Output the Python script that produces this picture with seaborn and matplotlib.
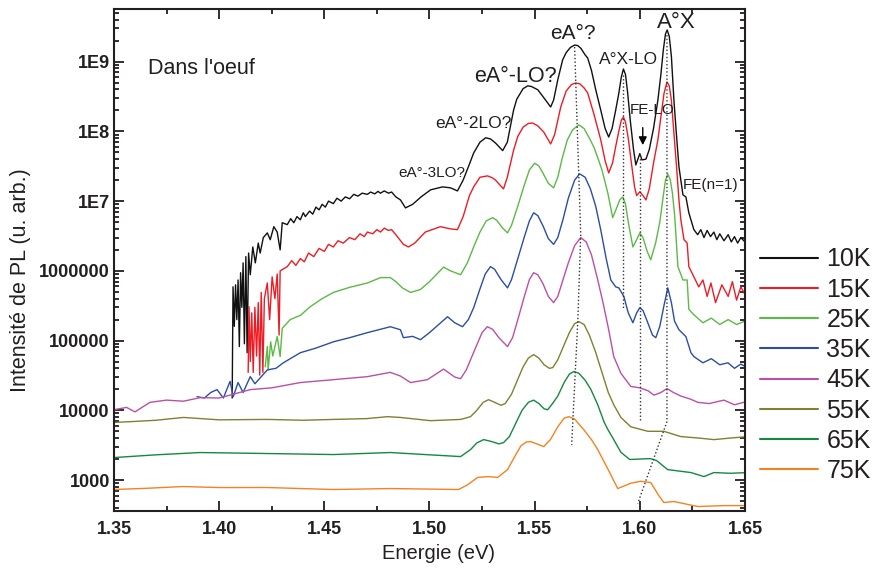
import matplotlib
matplotlib.use("Agg")
import matplotlib.pyplot as plt
from matplotlib.ticker import FixedLocator, FixedFormatter, LogLocator, MultipleLocator, NullFormatter
from matplotlib.lines import Line2D
import seaborn as sns

# PL spectra (energy in eV, intensity in arb. units)
e_10k = [1.4062, 1.4066, 1.4072, 1.4078, 1.4084, 1.4090, 1.4096, 1.4102, 1.4108, 1.4114, 1.4120, 1.4127,
         1.4133, 1.4140, 1.4148, 1.4160, 1.4172, 1.4186, 1.4195, 1.4210, 1.4229, 1.4243, 1.4260, 1.4276,
         1.4290, 1.4300, 1.4324, 1.4340, 1.4355, 1.4370, 1.4386, 1.4400, 1.4410, 1.4430, 1.4445, 1.4460,
         1.4475, 1.4490, 1.4505, 1.4520, 1.4543, 1.4560, 1.4580, 1.4600, 1.4620, 1.4640, 1.4660, 1.4680,
         1.4705, 1.4720, 1.4740, 1.4755, 1.4767, 1.4785, 1.4805, 1.4820, 1.4840, 1.4862, 1.4886, 1.4920,
         1.4960, 1.5005, 1.5062, 1.5100, 1.5133,
         1.5160, 1.5190, 1.5210, 1.5240, 1.5267, 1.5290, 1.5314, 1.5348, 1.5370, 1.5385, 1.5400, 1.5415,
         1.5445, 1.5467, 1.5485, 1.5515, 1.5545, 1.5576, 1.5590, 1.5610, 1.5633, 1.5650, 1.5670, 1.5690,
         1.5705, 1.5720, 1.5740, 1.5752, 1.5770, 1.5790, 1.5814, 1.5835, 1.5852, 1.5868, 1.5885, 1.5900,
         1.5912, 1.5922, 1.5932, 1.5942, 1.5955, 1.5970, 1.5981, 1.6000, 1.6010, 1.6029, 1.6045, 1.6065,
         1.6086, 1.6100, 1.6112, 1.6122, 1.6130, 1.6140, 1.6150, 1.6162, 1.6174, 1.6186, 1.6205, 1.6219,
         1.6233, 1.6257, 1.6275, 1.6290, 1.6305, 1.6320, 1.6336, 1.6352, 1.6366, 1.6380, 1.6400, 1.6420,
         1.6435, 1.6450, 1.6465, 1.6480, 1.6500]
i_10k = [1.5e4, 5.9e5, 1.6e5, 6.3e5, 2.0e5, 7.4e5, 8.2e4, 9.4e5, 3.0e5, 1.3e6, 9.0e4, 1.6e6,
         6.7e4, 1.8e6, 8.8e5, 2.2e6, 1.3e6, 2.5e6, 1.8e6, 3.0e6, 3.5e6, 2.8e6, 4.3e6, 3.6e6,
         2.0e6, 4.9e6, 4.6e6, 5.6e6, 4.9e6, 6.0e6, 5.4e6, 6.8e6, 6.0e6, 7.2e6, 6.5e6, 8.2e6,
         7.5e6, 9.0e6, 8.2e6, 1.0e7, 9.2e6, 1.1e7, 1.0e7, 1.15e7, 1.08e7, 1.25e7, 1.18e7, 1.3e7,
         1.25e7, 1.35e7, 1.27e7, 1.38e7, 1.3e7, 1.4e7, 1.3e7, 1.35e7, 1.15e7, 1.04e7, 8.0e6, 9.0e6,
         1.15e7, 1.45e7, 1.6e7, 1.55e7, 1.4e7,
         2.0e7, 3.4e7, 4.9e7, 7.0e7, 8.1e7, 7.8e7, 6.8e7, 5.3e7, 7.0e7, 1.2e8, 2.03e8, 2.9e8,
         4.1e8, 4.5e8, 4.4e8, 3.95e8, 3.0e8, 2.24e8, 2.8e8, 5.5e8, 1.06e9, 1.35e9, 1.6e9, 1.73e9,
         1.7e9, 1.55e9, 1.25e9, 1.13e9, 7.5e8, 4.0e8, 2.03e8, 1.1e8, 8.3e7, 1.1e8, 2.0e8, 3.5e8,
         6.0e8, 7.85e8, 6.5e8, 3.6e8, 1.4e8, 5.5e7, 3.3e7, 4.8e7, 3.9e7, 4.0e7, 5.5e7, 1.1e8,
         2.83e8, 6.5e8, 1.5e9, 2.5e9, 2.85e9, 2.3e9, 1.2e9, 2.83e8, 9.0e7, 3.1e7, 1.23e7, 1.15e7,
         6.8e6, 3.9e6, 3.3e6, 3.9e6, 3.0e6, 3.8e6, 3.1e6, 3.6e6, 2.8e6, 3.4e6, 2.7e6, 3.3e6,
         2.6e6, 3.1e6, 2.5e6, 3.0e6, 2.6e6]

e_15k = [1.4138, 1.4142, 1.4148, 1.4155, 1.4162, 1.4170, 1.4178, 1.4186, 1.4193, 1.4200, 1.4208, 1.4215,
         1.4229, 1.4240, 1.4252, 1.4265, 1.4276, 1.4285, 1.4290, 1.4324, 1.4345, 1.4365, 1.4386, 1.4405,
         1.4425, 1.4450, 1.4475, 1.4500, 1.4520, 1.4543, 1.4565, 1.4590, 1.4620, 1.4645, 1.4670, 1.4690,
         1.4705, 1.4730, 1.4750, 1.4767, 1.4785, 1.4805, 1.4820, 1.4840, 1.4876, 1.4900, 1.4930, 1.4980,
         1.5052, 1.5100, 1.5133,
         1.5160, 1.5190, 1.5210, 1.5240, 1.5276, 1.5300, 1.5314, 1.5335, 1.5352, 1.5370, 1.5400, 1.5420,
         1.5445, 1.5470, 1.5490, 1.5515, 1.5543, 1.5576, 1.5595, 1.5624, 1.5650, 1.5675, 1.5695, 1.5715,
         1.5735, 1.5752, 1.5781, 1.5800, 1.5814, 1.5835, 1.5852, 1.5870, 1.5885, 1.5900, 1.5912, 1.5922,
         1.5932, 1.5945, 1.5960, 1.5975, 1.5985, 1.6000, 1.6015, 1.6029, 1.6045, 1.6065, 1.6086, 1.6100,
         1.6115, 1.6129, 1.6140, 1.6150, 1.6162, 1.6175, 1.6186, 1.6195, 1.6210, 1.6225, 1.6233, 1.6257,
         1.6280, 1.6300, 1.6320, 1.6338, 1.6360, 1.6390, 1.6420, 1.6440, 1.6460, 1.6480, 1.6495, 1.6510]
i_15k = [3.5e4, 3.06e5, 5.0e4, 2.5e5, 3.5e4, 3.0e5, 6.0e4, 3.5e5, 3.2e4, 4.9e5, 3.5e4, 4.0e5,
         6.7e5, 2.0e5, 8.2e5, 4.0e5, 9.0e5, 1.2e5, 1.0e6, 1.15e6, 1.4e6, 1.2e6, 1.5e6, 1.35e6,
         1.8e6, 1.6e6, 2.1e6, 1.9e6, 2.4e6, 2.2e6, 2.7e6, 2.5e6, 3.0e6, 2.8e6, 3.4e6, 3.1e6,
         3.6e6, 3.4e6, 3.9e6, 3.6e6, 4.1e6, 3.8e6, 3.9e6, 3.3e6, 2.4e6, 2.2e6, 2.5e6, 3.6e6,
         4.3e6, 4.0e6, 3.9e6,
         6.0e6, 1.2e7, 1.6e7, 2.2e7, 2.3e7, 2.15e7, 2.0e7, 1.7e7, 1.5e7, 2.2e7, 5.4e7, 8.5e7,
         1.15e8, 1.3e8, 1.32e8, 1.2e8, 9.8e7, 6.6e7, 9.0e7, 2.24e8, 3.8e8, 4.7e8, 4.95e8, 4.8e8,
         4.2e8, 3.56e8, 1.8e8, 1.1e8, 7.6e7, 3.8e7, 2.54e7, 3.5e7, 6.0e7, 1.0e8, 1.45e8, 1.61e8,
         1.35e8, 8.0e7, 3.5e7, 1.6e7, 1.2e7, 1.36e7, 1.2e7, 1.04e7, 1.5e7, 3.5e7, 7.6e7, 1.6e8,
         3.5e8, 5.12e8, 4.5e8, 2.8e8, 9.5e7, 3.0e7, 1.04e7, 5.4e6, 2.8e6, 2.5e6, 1.15e6, 8.2e5,
         5.9e5, 7.4e5, 4.3e5, 6.7e5, 3.5e5, 6.3e5, 4.3e5, 7.0e5, 3.8e5, 5.9e5, 4.9e5, 3.7e5]

e_25k = [1.4219, 1.4229, 1.4233, 1.4245, 1.4255, 1.4276, 1.4290, 1.4300, 1.4338, 1.4386, 1.4433, 1.4490,
         1.4543, 1.4620, 1.4705, 1.4767, 1.4814, 1.4840, 1.4871, 1.4910, 1.4957, 1.5000, 1.5067, 1.5100,
         1.5148, 1.5180, 1.5210, 1.5240, 1.5270, 1.5300, 1.5320, 1.5345, 1.5371, 1.5390, 1.5420, 1.5448,
         1.5475, 1.5500, 1.5520, 1.5540, 1.5565, 1.5590, 1.5610, 1.5630, 1.5655, 1.5680, 1.5710, 1.5735,
         1.5760, 1.5781, 1.5800, 1.5820, 1.5848, 1.5871, 1.5890, 1.5905, 1.5919, 1.5932, 1.5945, 1.5967,
         1.5985, 1.6000, 1.6015, 1.6035, 1.6052, 1.6075, 1.6095, 1.6110, 1.6122, 1.6133, 1.6145, 1.6155,
         1.6165, 1.6171, 1.6181, 1.6205, 1.6225, 1.6233, 1.6257, 1.6300, 1.6340, 1.6380, 1.6420, 1.6460,
         1.6500]
i_25k = [4.2e4, 8.2e4, 3.8e4, 9.6e4, 6.0e4, 1.14e5, 5.9e4, 1.5e5, 2.0e5, 2.3e5, 3.06e5, 4.0e5,
         4.9e5, 5.8e5, 6.7e5, 8.0e5, 8.0e5, 7.0e5, 5.7e5, 4.9e5, 5.4e5, 7.0e5, 1.13e6, 1.0e6,
         8.8e5, 1.3e6, 2.2e6, 3.6e6, 5.2e6, 5.8e6, 5.3e6, 4.2e6, 3.5e6, 4.5e6, 8.5e6, 1.6e7,
         2.8e7, 3.5e7, 3.2e7, 2.5e7, 1.8e7, 1.55e7, 2.2e7, 4.0e7, 7.5e7, 1.05e8, 1.24e8, 1.1e8,
         8.0e7, 6.0e7, 4.2e7, 2.8e7, 1.3e7, 5.8e6, 8.0e6, 1.05e7, 1.15e7, 9.0e6, 5.0e6, 2.2e6,
         2.8e6, 3.5e6, 3.0e6, 1.9e6, 1.44e6, 2.5e6, 5.0e6, 1.1e7, 2.0e7, 2.46e7, 2.0e7, 1.3e7,
         6.5e6, 3.5e6, 1.15e6, 7.4e5, 7.4e5, 2.8e5, 2.35e5, 1.8e5, 2.1e5, 1.7e5, 2.0e5, 1.7e5,
         1.9e5]

e_35k = [1.3895, 1.3930, 1.3960, 1.3990, 1.4020, 1.4052, 1.4067, 1.4090, 1.4114, 1.4148, 1.4170, 1.4229,
         1.4270, 1.4305, 1.4386, 1.4460, 1.4543, 1.4620, 1.4705, 1.4814, 1.4862, 1.4876, 1.4920, 1.4957,
         1.5000, 1.5086, 1.5120, 1.5157, 1.5185, 1.5210, 1.5240, 1.5265, 1.5290, 1.5310, 1.5340, 1.5371,
         1.5390, 1.5420, 1.5450, 1.5475, 1.5495, 1.5515, 1.5540, 1.5565, 1.5590, 1.5610, 1.5635, 1.5660,
         1.5690, 1.5714, 1.5740, 1.5765, 1.5790, 1.5814, 1.5840, 1.5862, 1.5885, 1.5900, 1.5924, 1.5945,
         1.5967, 1.5985, 1.6000, 1.6015, 1.6035, 1.6060, 1.6076, 1.6095, 1.6115, 1.6133, 1.6150, 1.6165,
         1.6186, 1.6219, 1.6243, 1.6257, 1.6300, 1.6340, 1.6380, 1.6419, 1.6450, 1.6480, 1.6505]
i_35k = [1.57e4, 1.5e4, 1.8e4, 1.98e4, 1.5e4, 2.6e4, 1.57e4, 2.5e4, 1.8e4, 3.04e4, 2.4e4, 3.8e4,
         4.0e4, 4.8e4, 6.7e4, 7.8e4, 9.6e4, 1.1e5, 1.3e5, 1.58e5, 1.43e5, 1.1e5, 1.15e5, 1.03e5,
         1.3e5, 2.2e5, 1.8e5, 1.58e5, 2.0e5, 2.96e5, 5.5e5, 9.0e5, 1.15e6, 1.05e6, 7.5e5, 5.7e5,
         7.5e5, 1.5e6, 3.0e6, 5.2e6, 6.8e6, 6.2e6, 4.4e6, 2.9e6, 2.4e6, 3.0e6, 5.5e6, 1.1e7,
         2.0e7, 2.46e7, 2.2e7, 1.5e7, 8.5e6, 3.9e6, 1.5e6, 7.4e5, 5.9e5, 5.7e5, 4.3e5, 2.5e5,
         1.8e5, 2.5e5, 2.96e5, 2.7e5, 1.9e5, 1.2e5, 1.1e5, 1.6e5, 3.2e5, 5.7e5, 3.5e5, 1.9e5,
         1.43e5, 1.14e5, 6.7e4, 5.9e4, 4.8e4, 5.5e4, 4.5e4, 4.8e4, 4.0e4, 4.6e4, 4.2e4]

e_45k = [1.3500, 1.3560, 1.3600, 1.3671, 1.3750, 1.3830, 1.3910, 1.4000, 1.4148, 1.4250, 1.4386, 1.4543,
         1.4705, 1.4814, 1.4862, 1.4910, 1.4990, 1.5067, 1.5120, 1.5148, 1.5175, 1.5195, 1.5220, 1.5250,
         1.5275, 1.5300, 1.5330, 1.5371, 1.5395, 1.5420, 1.5450, 1.5475, 1.5495, 1.5515, 1.5540, 1.5565,
         1.5590, 1.5610, 1.5635, 1.5660, 1.5690, 1.5719, 1.5745, 1.5770, 1.5800, 1.5825, 1.5852, 1.5876,
         1.5910, 1.5957, 1.6000, 1.6040, 1.6067, 1.6100, 1.6129, 1.6160, 1.6195, 1.6240, 1.6276, 1.6330,
         1.6400, 1.6450, 1.6505]
i_45k = [1.02e4, 1.1e4, 9.5e3, 1.3e4, 1.4e4, 1.35e4, 1.52e4, 1.5e4, 1.98e4, 2.1e4, 2.5e4, 2.75e4,
         3.04e4, 3.5e4, 3.1e4, 2.5e4, 2.75e4, 3.9e4, 3.0e4, 2.84e4, 3.8e4, 5.3e4, 8.0e4, 1.3e5,
         1.58e5, 1.45e5, 1.1e5, 8.2e4, 1.1e5, 2.0e5, 4.2e5, 7.5e5, 9.4e5, 8.8e5, 6.5e5, 4.3e5,
         3.5e5, 4.3e5, 7.5e5, 1.3e6, 2.3e6, 3.0e6, 2.6e6, 1.7e6, 7.4e5, 3.5e5, 1.43e5, 5.9e4,
         3.4e4, 2.2e4, 2.1e4, 1.9e4, 1.65e4, 1.8e4, 2.05e4, 1.8e4, 1.6e4, 1.45e4, 1.3e4, 1.25e4,
         1.4e4, 1.2e4, 1.33e4]

e_55k = [1.3500, 1.3590, 1.3700, 1.3830, 1.4000, 1.4229, 1.4400, 1.4543, 1.4700, 1.4800, 1.4862, 1.5005,
         1.5148, 1.5195, 1.5225, 1.5255, 1.5281, 1.5310, 1.5340, 1.5360, 1.5390, 1.5419, 1.5445, 1.5470,
         1.5495, 1.5520, 1.5545, 1.5570, 1.5586, 1.5610, 1.5635, 1.5665, 1.5690, 1.5710, 1.5735, 1.5760,
         1.5790, 1.5820, 1.5850, 1.5876, 1.5910, 1.5957, 1.6038, 1.6114, 1.6195, 1.6280, 1.6352, 1.6430,
         1.6514]
i_55k = [6.7e3, 6.9e3, 7.2e3, 7.9e3, 7.3e3, 7.4e3, 7.2e3, 7.4e3, 7.6e3, 8.1e3, 7.9e3, 7.1e3,
         7.4e3, 8.1e3, 1.0e4, 1.3e4, 1.42e4, 1.3e4, 1.18e4, 1.25e4, 1.7e4, 2.75e4, 4.2e4, 5.6e4,
         6.3e4, 5.6e4, 4.5e4, 4.0e4, 4.1e4, 5.3e4, 8.0e4, 1.3e5, 1.75e5, 1.87e5, 1.7e5, 1.2e5,
         6.8e4, 3.5e4, 1.8e4, 1.2e4, 7.9e3, 5.8e3, 5.0e3, 5.0e3, 4.2e3, 4.0e3, 3.8e3, 4.0e3,
         4.2e3]

e_65k = [1.3500, 1.3700, 1.3910, 1.4229, 1.4543, 1.4814, 1.5000, 1.5148, 1.5195, 1.5225, 1.5257, 1.5290,
         1.5330, 1.5352, 1.5380, 1.5410, 1.5440, 1.5470, 1.5495, 1.5520, 1.5545, 1.5562, 1.5585, 1.5610,
         1.5640, 1.5665, 1.5686, 1.5710, 1.5740, 1.5767, 1.5800, 1.5830, 1.5848, 1.5876, 1.5910, 1.5952,
         1.6000, 1.6050, 1.6080, 1.6110, 1.6133, 1.6243, 1.6305, 1.6352, 1.6430, 1.6514]
i_65k = [2.1e3, 2.3e3, 2.48e3, 2.4e3, 2.32e3, 2.48e3, 2.3e3, 2.17e3, 2.73e3, 3.4e3, 3.8e3, 3.6e3,
         3.3e3, 3.44e3, 4.2e3, 6.5e3, 1.0e4, 1.3e4, 1.4e4, 1.25e4, 1.05e4, 1.02e4, 1.25e4, 1.6e4,
         2.5e4, 3.3e4, 3.6e4, 3.4e4, 2.7e4, 2.0e4, 1.2e4, 6.8e3, 5.3e3, 3.8e3, 2.5e3, 1.97e3,
         2.0e3, 2.03e3, 1.9e3, 1.6e3, 1.41e3, 1.28e3, 1.12e3, 1.28e3, 1.25e3, 1.28e3]

e_75k = [1.3500, 1.3650, 1.3829, 1.4000, 1.4229, 1.4543, 1.4814, 1.5138, 1.5180, 1.5229, 1.5280, 1.5324,
         1.5371, 1.5410, 1.5435, 1.5460, 1.5481, 1.5510, 1.5543, 1.5575, 1.5610, 1.5640, 1.5662, 1.5690,
         1.5733, 1.5770, 1.5800, 1.5850, 1.5895, 1.5957, 1.6005, 1.6052, 1.6090, 1.6114, 1.6162, 1.6276,
         1.6400, 1.6514]
i_75k = [731, 760, 807, 780, 781, 731, 755, 731, 850, 1090, 1120, 1090,
         1410, 2300, 3100, 3500, 3560, 3300, 3020, 3800, 5800, 7700, 8100, 7500,
         5300, 3800, 2730, 1400, 755, 900, 960, 920, 600, 476, 492, 417,
         430, 430]

temps = ["10K", "15K", "25K", "35K", "45K", "55K", "65K", "75K"]
colors = ["#111111", "#ed1c24", "#5cb946", "#2b4ea2", "#bb4fa6", "#808030", "#13893f", "#f58220"]
energies = [e_10k, e_15k, e_25k, e_35k, e_45k, e_55k, e_65k, e_75k]
intens = [i_10k, i_15k, i_25k, i_35k, i_45k, i_55k, i_65k, i_75k]

# dotted guide lines through the peak positions
guide_eA_e, guide_eA_i = [1.5690, 1.5719, 1.5705, 1.5676], [1.62e9, 3.3e6, 1.87e5, 3.2e3]
guide_axlo_e, guide_axlo_i = [1.5919, 1.5919], [6.4e8, 2.86e5]
guide_felo_e, guide_felo_i = [1.6000, 1.6000], [4.6e7, 7.1e3]
guide_ax_e, guide_ax_i = [1.6129, 1.6129, 1.5990], [2.4e9, 6.9e3, 460]

ytick_vals = [1e3, 1e4, 1e5, 1e6, 1e7, 1e8, 1e9]
ytick_labels = ["1000", "10000", "100000", "1000000", "1E7", "1E8", "1E9"]
xtick_vals = [1.35, 1.40, 1.45, 1.50, 1.55, 1.60, 1.65]

sns.set_style("ticks")
plt.rcParams['font.family'] = ['Liberation Sans', 'DejaVu Sans']
txt = "#231f20"

fig = plt.figure(figsize=(8.74, 5.74), dpi=100)
ax = fig.add_axes([0.1304, 0.1098, 0.7220, 0.8746])

for t, e, i, c in zip(temps, energies, intens, colors):
    sns.lineplot(x=e, y=i, color=c, lw=1.0, ax=ax, label=t, estimator=None, sort=False)

for ge, gi in [(guide_eA_e, guide_eA_i), (guide_axlo_e, guide_axlo_i),
               (guide_felo_e, guide_felo_i), (guide_ax_e, guide_ax_i)]:
    ax.plot(ge, gi, ls=(0, (1, 1.6)), color="#333333", lw=1.0)

ax.set_yscale("log")
ax.set_xlim(1.35, 1.65)
ax.set_ylim(360, 5.7e9)

ax.xaxis.set_major_locator(FixedLocator(xtick_vals))
ax.xaxis.set_minor_locator(MultipleLocator(0.025))
ax.set_xticklabels([f"{v:.2f}" for v in xtick_vals])
ax.yaxis.set_major_locator(FixedLocator(ytick_vals))
ax.yaxis.set_major_formatter(FixedFormatter(ytick_labels))
ax.yaxis.set_minor_locator(LogLocator(base=10, subs=range(2, 10), numticks=20))
ax.yaxis.set_minor_formatter(NullFormatter())

ax.tick_params(which="both", direction="in", top=True, right=True, width=1.3, colors=txt)
ax.tick_params(which="major", length=7)
ax.tick_params(which="minor", length=3.5)
ax.tick_params(axis="x", which="major", pad=7)
ax.tick_params(axis="y", which="major", pad=3)
for lab in ax.get_xticklabels() + ax.get_yticklabels():
    lab.set_fontweight("bold")
    lab.set_fontsize(13)
for sp in ax.spines.values():
    sp.set_linewidth(1.5)
    sp.set_color(txt)

ax.set_xlabel("Energie (eV)", fontsize=14.5, color=txt)
ax.xaxis.set_label_coords(0.514, -0.066)
ax.set_ylabel("Intensité de PL (u. arb.)", fontsize=15.5, color=txt)
ax.yaxis.set_label_coords(-0.132, 0.46)

# peak labels
ax.text(1.3662, 8.1e8, "Dans l'oeuf", fontsize=15.5, color=txt, ha="left", va="center")
ax.text(1.5683, 2.57e9, "eA°?", fontsize=15, color=txt, ha="center", va="center")
ax.text(1.5407, 6.2e8, "eA°-LO?", fontsize=15.5, color=txt, ha="center", va="center")
ax.text(1.6174, 3.6e9, "A°X", fontsize=16, color=txt, ha="center", va="center")
ax.text(1.5948, 1.06e9, "A°X-LO", fontsize=12.5, color=txt, ha="center", va="center")
ax.text(1.6060, 2.03e8, "FE-LO", fontsize=11, color=txt, ha="center", va="center")
ax.text(1.5207, 1.28e8, "eA°-2LO?", fontsize=12.5, color=txt, ha="center", va="center")
ax.text(1.5012, 2.54e7, "eA°-3LO?", fontsize=11, color=txt, ha="center", va="center")
ax.text(1.6338, 1.71e7, "FE(n=1)", fontsize=11, color=txt, ha="center", va="center")
ax.annotate("", xy=(1.6014, 5.8e7), xytext=(1.6014, 1.24e8),
            arrowprops=dict(arrowstyle="-|>", color="black", lw=1.0, mutation_scale=12))

ax.get_legend().remove()
handles = [Line2D([], [], color=c, lw=1.5) for c in colors]
fig.legend(handles, temps, loc="upper left", bbox_to_anchor=(0.8696, 0.569), frameon=False,
           fontsize=18, handlelength=2.3, handletextpad=0.35, labelspacing=0.25,
           borderpad=0, borderaxespad=0, labelcolor=txt)

fig.savefig("out.png", dpi=100)
